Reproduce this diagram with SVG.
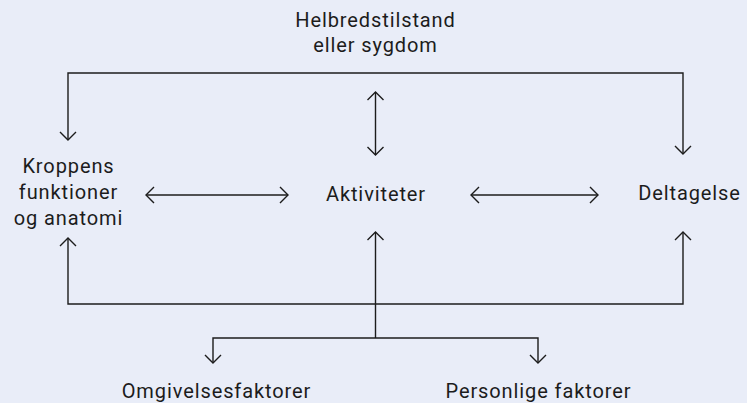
<svg xmlns="http://www.w3.org/2000/svg" width="747" height="403" viewBox="0 0 747 403">
<style>
.t{font-family:Roboto,"Liberation Sans",sans-serif;font-size:20px;letter-spacing:0.9px;fill:#1c1c1c;text-anchor:middle}
.c{fill:none;stroke:#1c1c1c;stroke-width:1.4}
</style>
<defs>
<marker id="ah" viewBox="-10 -10 20 20" markerWidth="20" markerHeight="20" refX="0" refY="0" orient="auto-start-reverse" markerUnits="userSpaceOnUse">
<path d="M-8,-8 L0,0 L-8,8" fill="none" stroke="#1c1c1c" stroke-width="1.4"/>
</marker>
</defs>
<rect width="747" height="403" fill="#e9edf8"/>
<g id="connectors">
<path class="c" d="M68,140 V73 H683 V154" marker-start="url(#ah)" marker-end="url(#ah)"/>
<path class="c" d="M375.5,92 V155" marker-start="url(#ah)" marker-end="url(#ah)"/>
<path class="c" d="M146,195 H288" marker-start="url(#ah)" marker-end="url(#ah)"/>
<path class="c" d="M471,195 H598" marker-start="url(#ah)" marker-end="url(#ah)"/>
<path class="c" d="M68,238 V304 H683 V232" marker-start="url(#ah)" marker-end="url(#ah)"/>
<path class="c" d="M375.5,232 V338"  marker-start="url(#ah)"/>
<path class="c" d="M213,363 V338 H538 V363" marker-start="url(#ah)" marker-end="url(#ah)"/>
</g>
<g id="helbred"><text class="t" x="375.5" y="27">Helbredstilstand</text><text class="t" x="375.5" y="52">eller sygdom</text></g>
<g id="kroppens"><text class="t" x="68.5" y="173">Kroppens</text><text class="t" x="68.5" y="199">funktioner</text><text class="t" x="68.5" y="225">og anatomi</text></g>
<g id="aktiviteter"><text class="t" x="376" y="201">Aktiviteter</text></g>
<g id="deltagelse"><text class="t" x="689.5" y="200">Deltagelse</text></g>
<g id="omgivelses"><text class="t" x="216.5" y="398">Omgivelsesfaktorer</text></g>
<g id="personlige"><text class="t" x="538.5" y="398">Personlige faktorer</text></g>
</svg>
